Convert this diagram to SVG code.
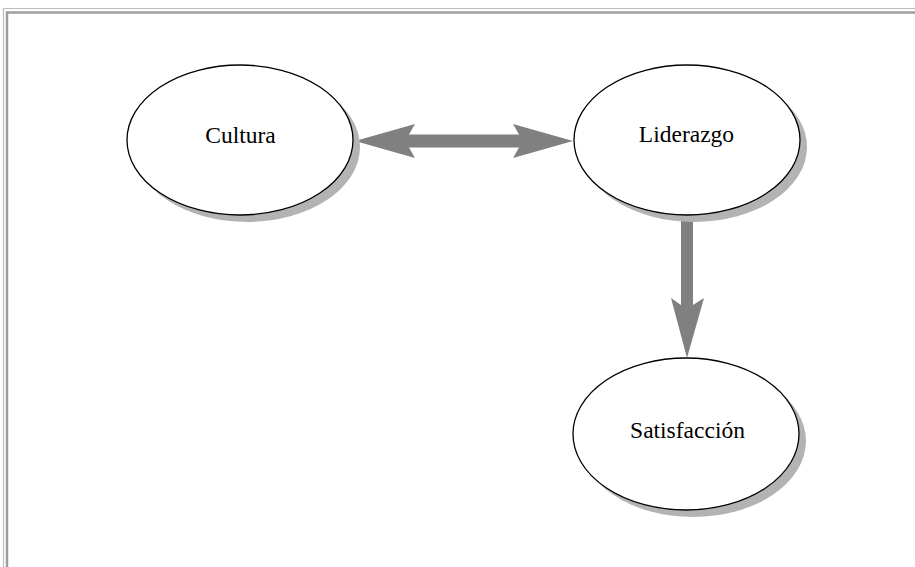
<svg xmlns="http://www.w3.org/2000/svg" width="915" height="567" viewBox="0 0 915 567">
<style>
.shadow{fill:#b3b3b3;stroke:none}
.node{fill:#ffffff;stroke:#000000;stroke-width:1.3}
.label{font-family:"Liberation Serif","Times New Roman",serif;font-size:23.5px;fill:#000000;text-anchor:middle}
.arrow{fill:#808080;stroke:none}
</style>
<rect width="915" height="567" fill="#ffffff"/>
<g id="frame" fill="none">
<path d="M3.5,567 V8.5 H915" stroke="#bdbdbd" stroke-width="1.2"/>
<path d="M7,567 V12.5 H915" stroke="#9e9e9e" stroke-width="2.5"/>
</g>
<g id="connectors">
<path class="arrow" d="M355,141 L415,124 L409,134.5 L519,134.5 L513,124 L573,141 L513,158 L519,147.5 L409,147.5 L415,158 Z"/>
<path class="arrow" d="M681,214 L693,214 L693,305 L704,298 L687,358 L671,298 L681,305 Z"/>
</g>
<g id="cultura">
<ellipse class="shadow" cx="247" cy="147" rx="113" ry="75"/>
<ellipse class="node" cx="240" cy="140" rx="113" ry="75"/>
<text class="label" x="240.5" y="143">Cultura</text>
</g>
<g id="liderazgo">
<ellipse class="shadow" cx="694" cy="147" rx="113" ry="75"/>
<ellipse class="node" cx="687" cy="140" rx="113" ry="75"/>
<text class="label" x="686.5" y="142">Liderazgo</text>
</g>
<g id="satisfaccion">
<ellipse class="shadow" cx="693" cy="441" rx="113" ry="76"/>
<ellipse class="node" cx="686" cy="434" rx="113" ry="76"/>
<text class="label" x="687.5" y="438">Satisfacción</text>
</g>
</svg>
